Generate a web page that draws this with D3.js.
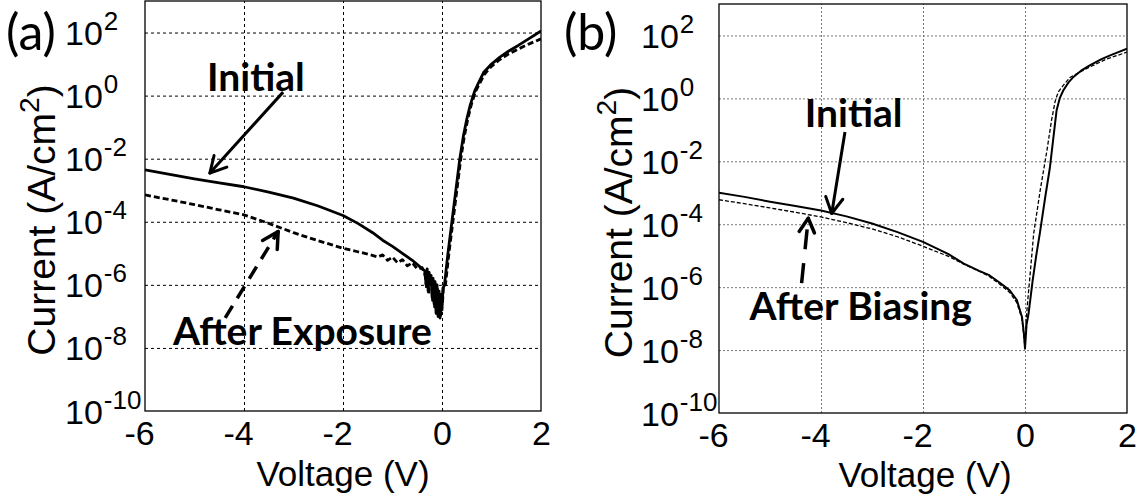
<!DOCTYPE html>
<html><head><meta charset="utf-8">
<script src="https://cdn.jsdelivr.net/npm/d3@7"></script>
<style>body{margin:0;background:#fff;} svg{display:block}</style>
</head><body>
<svg id="c" width="1147" height="495"></svg>
<script>
// ---------- shared ticks ----------
const xTicks = [-6, -4, -2, 0, 2];
const xGrid = [-4, -2, 0];
const yTickExps = [-10, -8, -6, -4, -2, 0, 2];
const yGridExps = [-8, -6, -4, -2, 0, 2];

// ---------- panel (a) ----------
const aInitV = [-6.0,-5.5,-5.0,-4.5,-4.0,-3.5,-3.0,-2.5,-2.0,-1.7,-1.4,-1.2,-1.0,-0.8,-0.6,-0.45,-0.35,
  -0.32,-0.30,-0.28,-0.26,-0.24,-0.22,-0.20,-0.18,-0.16,-0.14,-0.12,-0.10,-0.08,-0.06,-0.04,-0.02,0.0,0.02,
  0.05,0.12,0.20,0.28,0.36,0.43,0.50,0.57,0.63,0.66,0.75,0.84,1.0,1.17,1.35,1.54,1.75,2.0];
const aInitI = [4.4e-3,3.16e-3,2.29e-3,1.7e-3,1.29e-3,8.7e-4,5.6e-4,3.16e-4,1.58e-4,8.9e-5,4.5e-5,2.6e-5,1.66e-5,1.0e-5,6.0e-6,3.8e-6,2.8e-6,
  1.0e-6,3.2e-6,6.3e-7,2.5e-6,1.26e-6,2.0e-6,4.0e-7,1.6e-6,2.5e-7,1.26e-6,1.26e-7,1.0e-6,1.0e-7,6.3e-7,8.9e-8,5.0e-7,1.6e-7,7.9e-7,
  1.0e-6,1.0e-5,1.0e-4,1.0e-3,1.0e-2,5.0e-2,0.178,0.50,1.0,1.38,2.8,5.4,10,16.6,26,39,63,112];

const aExpV = [-6.0,-5.5,-5.0,-4.5,-4.0,-3.5,-3.0,-2.5,-2.0,-1.7,-1.5,-1.3,-1.2,-1.1,-1.0,-0.9,-0.8,-0.7,-0.6,-0.5,-0.4,
  -0.34,-0.31,-0.29,-0.27,-0.25,-0.23,-0.21,-0.19,-0.17,-0.15,-0.13,-0.11,-0.09,-0.07,-0.05,-0.03,-0.01,0.01,0.03,
  0.07,0.14,0.22,0.30,0.38,0.45,0.52,0.59,0.65,0.68,0.77,0.86,1.0,1.17,1.35,1.54,1.75,2.0];
const aExpI = [7.1e-4,5.0e-4,3.5e-4,2.4e-4,1.66e-4,8.9e-5,4.5e-5,2.5e-5,1.45e-5,1.12e-5,9.5e-6,7.6e-6,8.9e-6,6.0e-6,7.6e-6,5.0e-6,6.3e-6,4.0e-6,5.0e-6,3.2e-6,3.5e-6,
  2.0e-6,7.9e-7,2.5e-6,5.0e-7,2.0e-6,1.0e-6,1.6e-6,3.2e-7,1.26e-6,2.0e-7,1.0e-6,1.1e-7,7.9e-7,1.0e-7,5.0e-7,1.0e-7,4.0e-7,2.5e-7,1.0e-6,
  1.0e-6,1.0e-5,1.0e-4,1.0e-3,1.0e-2,5.0e-2,0.178,0.5,1.0,1.38,2.6,4.8,8.5,14,21,30,43,63];

// ---------- panel (b) ----------
const bInitV = [-6.0,-5.5,-5.0,-4.5,-4.0,-3.5,-3.0,-2.5,-2.0,-1.5,-1.2,-0.9,-0.7,-0.5,-0.3,-0.16,-0.06,-0.02,0.0,0.03,0.07,
  0.15,0.22,0.29,0.40,0.49,0.56,0.62,0.68,0.75,0.85,0.95,1.10,1.27,1.50,1.67,2.0];
const bInitI = [1.0e-3,7.4e-4,5.2e-4,3.8e-4,2.75e-4,1.78e-4,1.05e-4,5.6e-5,2.75e-5,1.12e-5,5.6e-6,3.3e-6,2.4e-6,1.4e-6,7.9e-7,3.9e-7,1.15e-7,3.2e-8,1.1e-8,6.3e-8,1.45e-7,
  1.6e-6,1.0e-5,5.0e-5,7.9e-4,6.6e-3,6.3e-2,0.42,1.0,1.78,3.16,4.8,7.6,11.2,17.8,23.4,38];

const bBiasV = [-6.0,-5.5,-5.0,-4.5,-4.0,-3.5,-3.0,-2.5,-2.0,-1.5,-1.2,-0.9,-0.7,-0.5,-0.3,-0.16,-0.06,-0.02,0.0,0.02,0.05,
  0.10,0.17,0.30,0.43,0.52,0.59,0.65,0.75,0.88,1.10,1.30,1.60,2.0];
const bBiasI = [6.0e-4,4.5e-4,3.3e-4,2.4e-4,1.7e-4,1.12e-4,7.1e-5,4.0e-5,2.0e-5,9.5e-6,5.4e-6,3.2e-6,2.2e-6,1.26e-6,6.8e-7,3.2e-7,1.0e-7,2.5e-8,1.26e-8,7.9e-8,3.2e-7,
  2.5e-6,5.0e-5,1.26e-3,2.2e-2,0.2,0.79,1.58,2.6,4.6,7.2,10.5,17.8,29.5];

// ---------- annotation texts ----------
const panelLabels = ["(a)", "(b)"];
const annA = ["Initial", "After Exposure"];
const annB = ["Initial", "After Biasing"];
const xLabel = "Voltage (V)";
const yLabelMain = "Current (A/cm";
const yLabelSup = "2";

const svg = d3.select("#c");
const tickFont = "'Liberation Sans', Arial, sans-serif";
const annFont = "Lato, 'Open Sans', sans-serif";

function drawPanel(cfg) {
  const x = d3.scaleLinear().domain([-6, 2]).range([cfg.left, cfg.right]);
  const y = d3.scaleLog().domain([1e-10, 1e3]).range([cfg.bottom, cfg.top]);
  const g = svg.append("g");
  const clipId = "clip" + cfg.id;
  svg.append("clipPath").attr("id", clipId).append("rect")
    .attr("x", cfg.left).attr("y", cfg.top)
    .attr("width", cfg.right - cfg.left).attr("height", cfg.bottom - cfg.top);

  // grid
  const xg = g.append("g").attr("transform", `translate(0,${cfg.bottom})`)
    .call(d3.axisBottom(x).tickValues(xGrid).tickSize(-(cfg.bottom - cfg.top)).tickFormat(""));
  const yg = g.append("g").attr("transform", `translate(${cfg.left},0)`)
    .call(d3.axisLeft(y).tickValues(yGridExps.map(e => Math.pow(10, e))).tickSize(-(cfg.right - cfg.left)).tickFormat(""));
  [xg, yg].forEach(a => {
    a.select(".domain").remove();
    a.selectAll("line").attr("stroke", cfg.gridColor).attr("stroke-width", 1)
      .attr("stroke-dasharray", cfg.gridDash);
  });

  // x tick labels
  const xa = g.append("g").attr("transform", `translate(0,${cfg.bottom})`)
    .call(d3.axisBottom(x).tickValues(xTicks).tickSize(0).tickPadding(0).tickFormat(d => String(d)));
  xa.select(".domain").remove();
  xa.selectAll("text").attr("font-family", tickFont).attr("font-size", cfg.tickSize)
    .attr("fill", "#000").attr("dy", cfg.xTickDy).attr("y", 0)
    .attr("dx", d => d < 0 ? -6 : 0);

  // y tick labels with superscripts
  const ya = g.append("g").attr("transform", `translate(${cfg.left},0)`)
    .call(d3.axisLeft(y).tickValues(yTickExps.map(e => Math.pow(10, e))).tickSize(0).tickFormat(""));
  ya.select(".domain").remove();
  ya.selectAll(".tick").each(function(d) {
    const e = Math.round(Math.log10(d));
    const t = d3.select(this).append("text").attr("fill", "#000")
      .attr("font-family", tickFont).attr("text-anchor", "start")
      .attr("x", -cfg.yLabOff).attr("y", 12);
    t.append("tspan").attr("font-size", cfg.tickSize).text("10");
    t.append("tspan").attr("font-size", cfg.supSize).attr("dx", 1).attr("dy", -15).text(String(e));
  });

  // curves
  const line = d3.line().x(d => x(d[0])).y(d => y(d[1]));
  const cg = g.append("g").attr("clip-path", `url(#${clipId})`);
  cfg.series.forEach(s => {
    cg.append("path").datum(d3.zip(s.v, s.i)).attr("d", line)
      .attr("fill", "none").attr("stroke", "#000").attr("stroke-width", s.w)
      .attr("stroke-dasharray", s.dash || null).attr("stroke-linejoin", "round");
  });

  // box
  g.append("rect").attr("x", cfg.left).attr("y", cfg.top)
    .attr("width", cfg.right - cfg.left).attr("height", cfg.bottom - cfg.top)
    .attr("fill", "none").attr("stroke", "#000").attr("stroke-width", 1.3);

  // annotations
  cfg.texts.forEach(t => {
    g.append("text").attr("x", x(t.v)).attr("y", y(t.i)).attr("text-anchor", "middle")
      .attr("font-family", annFont).attr("font-weight", 700).attr("font-size", cfg.annSize)
      .attr("fill", "#000").text(t.s);
  });
  cfg.arrows.forEach(a => {
    const x1 = x(a.v1), y1 = y(a.i1), x2 = x(a.v2), y2 = y(a.i2);
    g.append("line").attr("x1", x1).attr("y1", y1).attr("x2", x2).attr("y2", y2)
      .attr("stroke", "#000").attr("stroke-width", a.w).attr("stroke-dasharray", a.dash || null);
    const ang = Math.atan2(y2 - y1, x2 - x1);
    [-0.5, 0.5].forEach(da => {
      g.append("line").attr("x1", x2).attr("y1", y2)
        .attr("x2", x2 - a.head * Math.cos(ang + da)).attr("y2", y2 - a.head * Math.sin(ang + da))
        .attr("stroke", "#000").attr("stroke-width", a.w).attr("stroke-linecap", "round");
    });
  });

  // axis labels
  g.append("text").attr("x", (cfg.left + cfg.right) / 2 + cfg.xLabDx).attr("y", cfg.xLabY)
    .attr("text-anchor", "middle").attr("font-family", tickFont).attr("font-size", cfg.xLabSize)
    .attr("fill", "#000").text(xLabel);
  const yl = g.append("text")
    .attr("transform", `translate(${cfg.yLabX},${(cfg.top + cfg.bottom) / 2 + cfg.yLabDy}) rotate(-90)`)
    .attr("text-anchor", "middle").attr("font-family", tickFont).attr("font-size", cfg.yLabSize).attr("fill", "#000");
  yl.append("tspan").text(yLabelMain);
  yl.append("tspan").attr("font-size", cfg.yLabSize * 0.72).attr("dy", -16).text(yLabelSup);
  yl.append("tspan").attr("dy", 16).text(")");

  g.append("text").attr("x", cfg.plX).attr("y", cfg.plY).attr("font-family", annFont)
    .attr("font-size", 50).attr("fill", "#000").text(cfg.panel);
}

drawPanel({
  id: "a", panel: panelLabels[0], left: 145, right: 541, top: 1, bottom: 411,
  gridColor: "#000", gridDash: "3,3", tickSize: 34, supSize: 26, yLabOff: 80, xTickDy: 34,
  annSize: 39, xLabSize: 35, yLabSize: 39, xLabY: 486, xLabDx: 0, yLabX: 55, yLabDy: 14, plX: 6, plY: 50,
  series: [
    { v: aInitV, i: aInitI, w: 2.8 },
    { v: aExpV, i: aExpI, w: 2.8, dash: "6,3" }
  ],
  texts: [
    { s: annA[0], v: -3.76, i: 1.38 },
    { s: annA[1], v: -2.82, i: 1.2e-8 }
  ],
  arrows: [
    { v1: -3.21, i1: 1.29, v2: -4.69, i2: 3.5e-3, w: 3, head: 18 },
    { v1: -4.38, i1: 9e-8, v2: -3.31, i2: 4.9e-5, w: 3.5, head: 18, dash: "14,9" }
  ]
});

drawPanel({
  id: "b", panel: panelLabels[1], left: 719, right: 1127, top: 4, bottom: 413,
  gridColor: "#777", gridDash: "2,2", tickSize: 34, supSize: 26, yLabOff: 78, xTickDy: 34,
  annSize: 39, xLabSize: 35, yLabSize: 39, xLabY: 487, xLabDx: 2, yLabX: 632, yLabDy: 14, plX: 564, plY: 50,
  series: [
    { v: bInitV, i: bInitI, w: 2 },
    { v: bBiasV, i: bBiasI, w: 1.3, dash: "4,2" }
  ],
  texts: [
    { s: annB[0], v: -3.36, i: 0.12 },
    { s: annB[1], v: -3.22, i: 8.9e-8 }
  ],
  arrows: [
    { v1: -3.53, i1: 0.085, v2: -3.79, i2: 2.2e-4, w: 3, head: 18 },
    { v1: -4.38, i1: 1.35e-6, v2: -4.25, i2: 1.55e-4, w: 3.5, head: 16, dash: "20,14" }
  ]
});
</script>
</body></html>
